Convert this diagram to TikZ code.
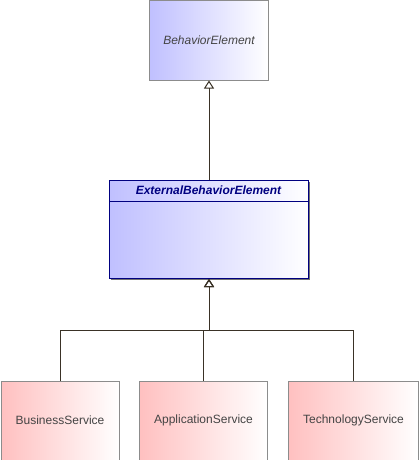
\documentclass[tikz,border=0pt]{standalone}
\usepackage{fontspec}
\setmainfont{Liberation Sans}
\usetikzlibrary{arrows.meta}
\definecolor{bluef}{HTML}{C0C0FF}
\definecolor{pinkf}{HTML}{FFC0C0}
\definecolor{boxline}{HTML}{8C8C8C}
\definecolor{navyline}{HTML}{000080}
\definecolor{conn}{HTML}{3A3226}
\definecolor{txt}{HTML}{444444}
\tikzset{
  x=1pt, y=1pt,
  elem/.style={draw=boxline, line width=1pt, anchor=north west, inner sep=0pt,
    text=txt, font=\fontsize{12}{14}\selectfont, align=center},
  bluebox/.style={elem, left color=bluef, right color=white},
  pinkbox/.style={elem, left color=pinkf, right color=white},
  gen/.style={draw=conn, line width=1pt, -{Triangle[open, length=8pt, width=10pt, line width=1pt]}},
}
\begin{document}
\begin{tikzpicture}
\useasboundingbox (0,0) rectangle (419,-460);
% BehaviorElement
\node[bluebox, minimum width=119pt, minimum height=79pt, font=\fontsize{12}{14}\selectfont\itshape] (be) at (149,-0.5) {BehaviorElement};
% shadow
\fill[black!55] (111,-182) rectangle (310,-280);
\node[elem, draw=navyline, left color=bluef, right color=white, minimum width=199pt, minimum height=98pt] (ebe) at (109,-180) {};
\draw[navyline, line width=1pt] (ebe.north west |- 0,-201) coordinate (hl) -- (ebe.north east |- 0,-201) coordinate (hr);
\node[text=navyline, font=\fontsize{12}{14}\selectfont\bfseries\itshape, inner sep=0pt] (ebet) at (208.5,-190) {ExternalBehaviorElement};
% children
\node[pinkbox, minimum width=118pt, minimum height=79pt] (bs) at (0.5,-380.5) {BusinessService};
\node[pinkbox, minimum width=128pt, minimum height=79pt] (as) at (139,-380.5) {ApplicationService};
\node[pinkbox, minimum width=130pt, minimum height=79pt] (ts) at (288,-380.5) {TechnologyService};
% connectors
\draw[gen] (ebe.north) -- (be.south);
\draw[gen] (bs.north) -- ++(0,50) -| (ebe.south);
\draw[gen] (as.north) -- ++(0,50) -| (ebe.south);
\draw[gen] (ts.north) -- ++(0,50) -| (ebe.south);
\end{tikzpicture}
\end{document}
